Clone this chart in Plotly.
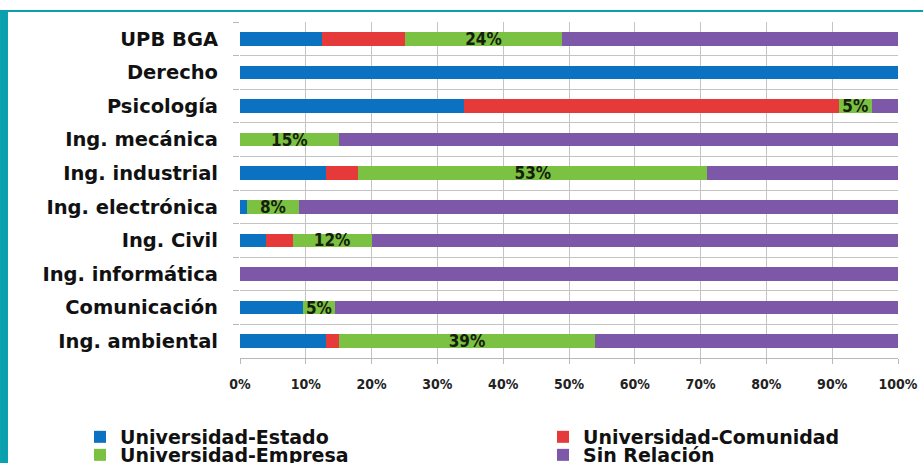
import plotly.graph_objects as go

categories = ["UPB BGA", "Derecho", "Psicología", "Ing. mecánica", "Ing. industrial",
              "Ing. electrónica", "Ing. Civil", "Ing. informática", "Comunicación",
              "Ing. ambiental"]
estado = [12.5, 100, 34, 0, 13, 1, 4, 0, 9.5, 13]
comunidad = [12.5, 0, 57, 0, 5, 0, 4, 0, 0, 2]
empresa = [24, 0, 5, 15, 53, 8, 12, 0, 5, 39]
sin_relacion = [51, 0, 4, 85, 29, 91, 80, 100, 85.5, 46]
empresa_labels = ["24%", "", "5%", "15%", "53%", "8%", "12%", "", "5%", "39%"]
tick_vals = [0, 10, 20, 30, 40, 50, 60, 70, 80, 90, 100]
tick_text = ["0%", "10%", "20%", "30%", "40%", "50%", "60%", "70%", "80%", "90%", "100%"]

series = [
    ("Universidad-Estado", estado, "#0b72c1", "legend"),
    ("Universidad-Comunidad", comunidad, "#e63a3a", "legend2"),
    ("Universidad-Empresa", empresa, "#7bc142", "legend3"),
    ("Sin Relación", sin_relacion, "#7e58a8", "legend4"),
]

fig = go.Figure()
for name, vals, color, lg in series:
    kw = {}
    if name == "Universidad-Empresa":
        kw = dict(text=empresa_labels, textposition="inside", insidetextanchor="middle",
                  textfont=dict(family="Liberation Sans Narrow, DejaVu Sans Condensed, Arial Narrow",
                                size=17, color="#15200c", weight="bold"),
                  constraintext="none")
    fig.add_trace(go.Bar(
        y=categories, x=vals, name=name, orientation="h",
        marker=dict(color=color, line=dict(width=0)),
        width=0.4, legend=lg, hoverinfo="x+y+name", **kw))

legend_font = dict(family="DejaVu Sans, Verdana", size=19, color="#111111", weight="bold")
common_leg = dict(orientation="v", font=legend_font, bgcolor="rgba(0,0,0,0)",
                  itemwidth=30, xanchor="left", yanchor="middle", tracegroupgap=0,
                  xref="container", yref="container")

fig.update_layout(
    template="none",
    width=923, height=463,
    margin=dict(l=240, r=25, t=22, b=105, autoexpand=False),
    barmode="stack",
    bargap=0.6,
    paper_bgcolor="white",
    plot_bgcolor="white",
    showlegend=True,
    legend=dict(x=0.0867, y=0.0562, **common_leg),
    legend2=dict(x=0.5883, y=0.0562, **common_leg),
    legend3=dict(x=0.0867, y=0.0173, **common_leg),
    legend4=dict(x=0.5883, y=0.0173, **common_leg),
    xaxis=dict(
        range=[0, 100], tickvals=tick_vals, ticktext=tick_text,
        showgrid=True, gridcolor="#c4c4c4", gridwidth=1,
        showline=True, linecolor="#b8b8b8", linewidth=1,
        ticks="outside", ticklen=5, tickcolor="#b8b8b8",
        tickfont=dict(family="DejaVu Sans Condensed, DejaVu Sans", size=14, color="#222222", weight="bold"),
        ticklabelstandoff=8, zeroline=False, mirror=False, automargin=False,
    ),
    yaxis=dict(
        autorange="reversed", type="category",
        tickson="boundaries", showgrid=True, gridcolor="#c4c4c4", gridwidth=1,
        ticks="outside", ticklen=6, tickcolor="#b8b8b8",
        showline=False, zeroline=False, automargin=False,
        tickfont=dict(family="DejaVu Sans, Verdana", size=19.5, color="#111111", weight="bold"),
        ticklabelstandoff=21,
    ),
    shapes=[
        dict(type="rect", xref="paper", yref="paper", x0=-0.3647, x1=-0.3526,
             y0=-0.3125, y1=1.0357, fillcolor="#0aa0ad", line=dict(width=0), layer="above"),
        dict(type="rect", xref="paper", yref="paper", x0=-0.3647, x1=1.04,
             y0=1.0357, y1=1.0297, fillcolor="#0aa0ad", line=dict(width=0), layer="above"),
    ],
)

fig.write_html("out.html",
               config={"displayModeBar": False},
               post_script="document.body.style.margin='0';document.body.style.padding='0';")
